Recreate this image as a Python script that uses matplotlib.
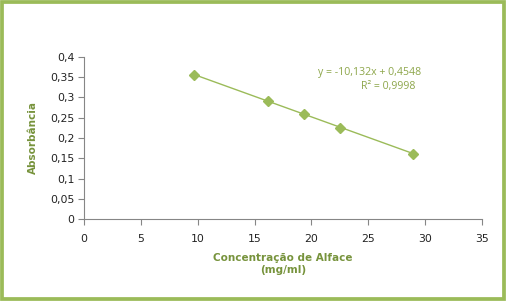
import matplotlib
matplotlib.use("Agg")
import matplotlib.pyplot as plt
from matplotlib.patches import Rectangle
from matplotlib.ticker import FuncFormatter, MultipleLocator

concentracao = [9.65, 16.14, 19.31, 22.53, 28.95]
absorbancia = [0.356, 0.291, 0.259, 0.224, 0.160]
slope = -10.132
intercept = 0.4548
equation = "y = -10,132x + 0,4548"
r2_text = "R² = 0,9998"
xlabel = "Concentração de Alface\n(mg/ml)"
ylabel = "Absorbância"

green = "#9BBB59"
title_green = "#77933C"
eq_green = "#8DA64A"
font = ["Open Sans", "DejaVu Sans"]
tfont = ["DejaVu Sans"]

W, H = 508, 301
fig = plt.figure(figsize=(W / 100, H / 100), dpi=100)
fig.patch.set_facecolor("white")
ax = fig.add_axes([84 / W, 1 - 219 / H, (482 - 84) / W, (219 - 57) / H])

# trendline over data range (fit in g/ml units)
xs = [concentracao[0], concentracao[-1]]
ys = [slope * x / 1000 + intercept for x in xs]
ax.plot(xs, ys, color=green, lw=1.0, zorder=2)
ax.plot(concentracao, absorbancia, linestyle="none", marker="D", ms=5.5,
        color=green, mec=green, zorder=3)

ax.set_xlim(0, 35)
ax.set_ylim(0, 0.4)
ax.xaxis.set_major_locator(MultipleLocator(5))
ax.yaxis.set_major_locator(MultipleLocator(0.05))
fmt = FuncFormatter(lambda v, p: ("%g" % round(v, 4)).replace(".", ","))
ax.xaxis.set_major_formatter(fmt)
ax.yaxis.set_major_formatter(fmt)

for s in ["top", "right"]:
    ax.spines[s].set_visible(False)
for s in ["left", "bottom"]:
    ax.spines[s].set_color("#868686")
    ax.spines[s].set_linewidth(0.8)
ax.tick_params(axis="both", direction="out", length=4, width=0.8, color="#868686",
               labelsize=7.8, labelcolor="#222222")
ax.tick_params(axis="x", pad=7)
ax.tick_params(axis="y", pad=3)
for lab in ax.get_xticklabels() + ax.get_yticklabels():
    lab.set_family(tfont)

fig.text(283 / W, 1 - 264 / H, xlabel, ha="center", va="center", fontsize=7.5,
         fontweight="bold", color=title_green, family=tfont, linespacing=1.35)
fig.text(33 / W, 1 - 138 / H, ylabel, ha="center", va="center", rotation=90,
         fontsize=7.5, fontweight="bold", color=title_green, family=tfont)

fig.text(370 / W, 1 - 72 / H, equation, ha="center", va="center", fontsize=7.6,
         color=eq_green, family=font)
fig.text(388 / W, 1 - 87 / H, r2_text, ha="center", va="center", fontsize=7.6,
         color=eq_green, family=font)

fig.patches.append(Rectangle((1.5 / W, 2 / H), (W - 5.5) / W, (H - 4) / H,
                             transform=fig.transFigure, fill=False,
                             edgecolor=green, lw=2.7))

fig.savefig("out.png", dpi=100, facecolor="white")
